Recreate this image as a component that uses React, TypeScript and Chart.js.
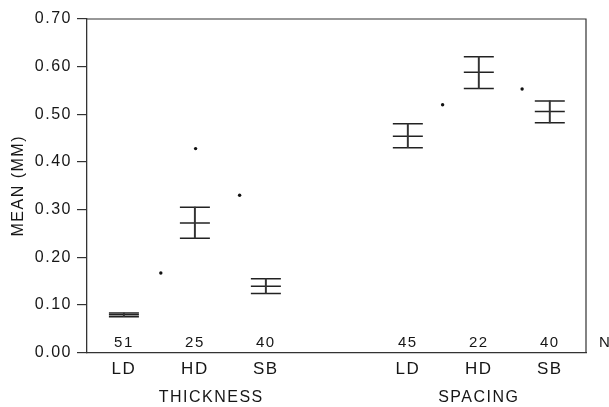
import React, { useEffect, useRef } from 'react';
import { Chart, registerables } from 'chart.js';

Chart.register(...registerables);

// ---- data ----
const categories = ['LD', 'HD', 'SB', 'LD', 'HD', 'SB'];
const catPositions = [0, 1, 2, 4, 5, 6];
const meanValues = [0.079, 0.272, 0.139, 0.454, 0.588, 0.506];
const upperValues = [0.083, 0.305, 0.155, 0.48, 0.621, 0.528];
const lowerValues = [0.075, 0.24, 0.124, 0.43, 0.554, 0.482];
const sampleSizes = [51, 25, 40, 45, 22, 40];
const groupTitles = ['THICKNESS', 'SPACING'];
const groupCenters = [1.23, 5.0];
const markerX = [0.52, 1.01, 1.63, 4.49, 5.61];
const markerY = [0.167, 0.428, 0.33, 0.52, 0.553];
const yAxisTitle = 'MEAN (MM)';
const nLabel = 'N';

const FONT = '"Liberation Sans", Arial, Helvetica, sans-serif';
const INK = '#161616';

const extrasPlugin = {
  id: 'extras',
  beforeDraw(chart: any) {
    chart.ctx.letterSpacing = '1.5px';
  },
  afterDatasetsDraw(chart: any) {
    const { ctx, chartArea, scales } = chart;
    const x = scales.x;
    const y = scales.y;
    ctx.save();
    // top and right frame
    ctx.strokeStyle = '#333';
    ctx.lineWidth = 1.2;
    ctx.beginPath();
    ctx.moveTo(chartArea.left, chartArea.top);
    ctx.lineTo(chartArea.right, chartArea.top);
    ctx.lineTo(chartArea.right, chartArea.bottom);
    ctx.stroke();

    ctx.fillStyle = INK;
    ctx.textAlign = 'center';
    ctx.textBaseline = 'middle';
    ctx.font = `15px ${FONT}`;
    sampleSizes.forEach((n, i) => {
      ctx.fillText(String(n), x.getPixelForValue(catPositions[i]), y.getPixelForValue(0.02));
    });
    ctx.fillText(nLabel, x.getPixelForValue(6.78), y.getPixelForValue(0.02));

    ctx.font = `16px ${FONT}`;
    groupTitles.forEach((t, i) => {
      ctx.fillText(t, x.getPixelForValue(groupCenters[i]), chartArea.bottom + 45);
    });
    ctx.restore();
  },
  afterDraw(chart: any) {
    chart.ctx.letterSpacing = '0px';
  },
};

export default function App() {
  const ref = useRef<HTMLCanvasElement | null>(null);

  useEffect(() => {
    if (!ref.current) return;
    const capStyle = {
      type: 'scatter' as const,
      pointStyle: 'line',
      radius: 15,
      hoverRadius: 15,
      borderWidth: 1.5,
      borderColor: '#222',
      backgroundColor: '#222',
    };
    const chart = new Chart(ref.current, {
      type: 'scatter',
      data: {
        datasets: [
          {
            type: 'bar',
            data: catPositions.map((p, i) => ({ x: p, y: [lowerValues[i], upperValues[i]] })),
            backgroundColor: '#333',
            borderWidth: 0,
            barThickness: 1.3,
          } as any,
          { ...capStyle, data: catPositions.map((p, i) => ({ x: p, y: upperValues[i] })) },
          { ...capStyle, data: catPositions.map((p, i) => ({ x: p, y: meanValues[i] })) },
          { ...capStyle, data: catPositions.map((p, i) => ({ x: p, y: lowerValues[i] })) },
          {
            type: 'scatter',
            data: markerX.map((p, i) => ({ x: p, y: markerY[i] })),
            pointStyle: 'circle',
            radius: 1.7,
            borderWidth: 0,
            backgroundColor: '#111',
          },
        ],
      },
      options: {
        responsive: false,
        animation: false,
        events: [],
        layout: { padding: { left: 0, right: 23, top: 19, bottom: 0 } },
        plugins: { legend: { display: false }, tooltip: { enabled: false } },
        scales: {
          x: {
            type: 'linear',
            min: -0.52,
            max: 6.51,
            offset: false,
            grid: { display: false, drawTicks: false },
            border: { display: true, color: '#333', width: 1.3 },
            afterBuildTicks: (scale: any) => {
              scale.ticks = catPositions.map((v) => ({ value: v }));
            },
            afterFit: (scale: any) => {
              scale.height = 54.5;
            },
            ticks: {
              autoSkip: false,
              maxRotation: 0,
              padding: 7,
              color: INK,
              font: { family: FONT, size: 17 },
              callback: (_v: any, index: number) => categories[index],
            },
          },
          y: {
            min: 0,
            max: 0.7,
            grid: {
              display: true,
              drawOnChartArea: false,
              drawTicks: true,
              tickLength: 10,
              color: '#333',
              lineWidth: 1.2,
            },
            border: { display: true, color: '#333', width: 1.3 },
            afterFit: (scale: any) => {
              scale.width = 87;
            },
            title: {
              display: true,
              text: yAxisTitle,
              color: INK,
              font: { family: FONT, size: 16 },
              padding: { top: 9, bottom: 0 },
            },
            ticks: {
              stepSize: 0.1,
              padding: 5,
              color: INK,
              font: { family: FONT, size: 16 },
              callback: (v: any) => Number(v).toFixed(2),
            },
          },
        },
      },
      plugins: [extrasPlugin],
    });
    return () => chart.destroy();
  }, []);

  return (
    <div style={{ position: 'fixed', left: 0, top: 0, width: 609, height: 407, background: '#fff' }}>
      <canvas ref={ref} width={609} height={407} />
    </div>
  );
}
